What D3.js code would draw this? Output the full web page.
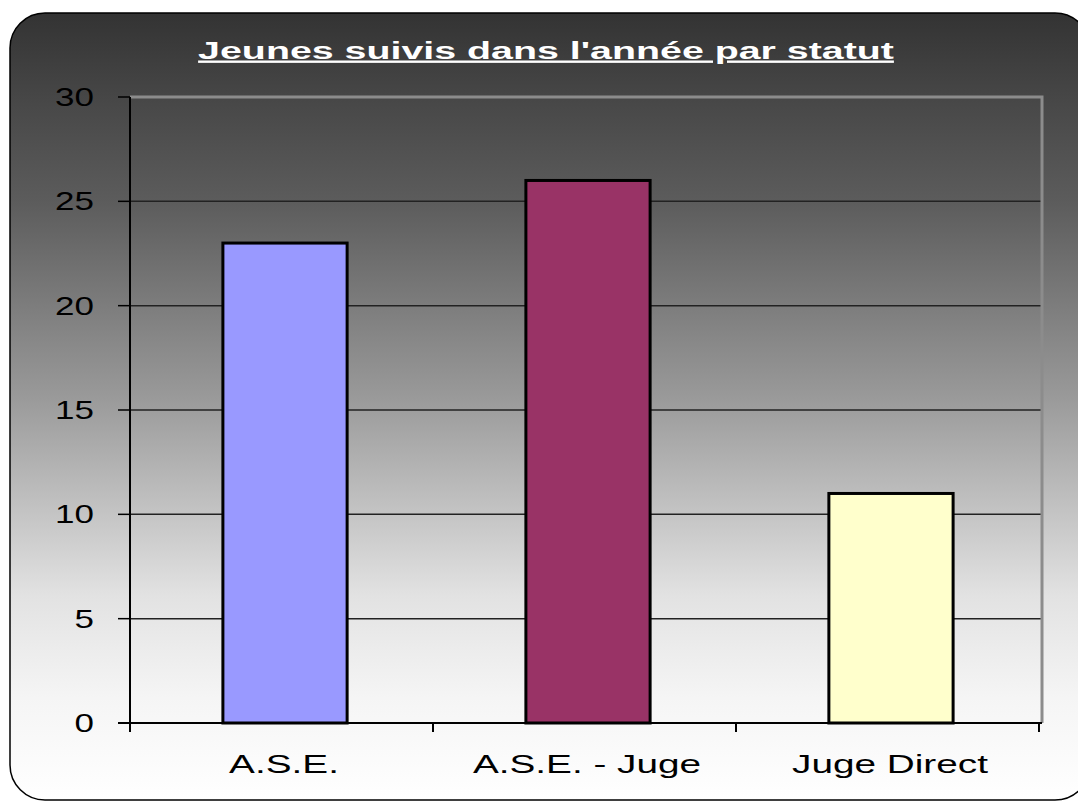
<!DOCTYPE html>
<html>
<head>
<meta charset="utf-8">
<script src="https://cdnjs.cloudflare.com/ajax/libs/d3/7.8.5/d3.min.js"></script>
<style>
  body { margin: 0; background: #fff; }
  text { font-family: "Liberation Sans", Arial, sans-serif; }
</style>
</head>
<body>
<script>
const title = "Jeunes suivis dans l'année par statut";
const categories = ["A.S.E.", "A.S.E. - Juge", "Juge Direct"];
const values = [23, 26, 11];
const barColors = ["#9999ff", "#993366", "#ffffcc"];
const yTicks = [0, 5, 10, 15, 20, 25, 30];

const w = 1078, h = 803;
const plotLeft = 130, plotRight = 1042, plotTop = 97, plotBottom = 723;

const svg = d3.select("body").append("svg")
  .attr("width", w)
  .attr("height", h);

// background gradient
const defs = svg.append("defs");
const grad = defs.append("linearGradient")
  .attr("id", "bg")
  .attr("gradientUnits", "userSpaceOnUse")
  .attr("x1", 0).attr("y1", 13).attr("x2", 0).attr("y2", 800);
[[0, "#333333"], [0.11, "#474747"], [0.24, "#5c5c5c"], [0.49, "#9a9a9a"], [0.74, "#e2e2e2"], [0.87, "#f5f5f5"], [1, "#ffffff"]]
  .forEach(s => grad.append("stop").attr("offset", s[0]).attr("stop-color", s[1]));

svg.append("rect")
  .attr("x", 10).attr("y", 13)
  .attr("width", 1080).attr("height", 787)
  .attr("rx", 35)
  .attr("fill", "url(#bg)")
  .attr("stroke", "#000")
  .attr("stroke-width", 1.5);

const x = d3.scaleBand()
  .domain(categories)
  .range([plotLeft, plotRight])
  .paddingInner(0.59)
  .paddingOuter(0.3);

const y = d3.scaleLinear()
  .domain([0, 30])
  .range([plotBottom, plotTop]);

// gridlines
svg.append("g")
  .selectAll("line")
  .data(yTicks.filter(d => d > 0 && d < 30))
  .enter()
  .append("line")
  .attr("x1", plotLeft).attr("x2", plotRight)
  .attr("y1", d => y(d)).attr("y2", d => y(d))
  .attr("stroke", "#222")
  .attr("stroke-width", 1.5);

// plot area border (top and right)
svg.append("path")
  .attr("d", `M${plotLeft},${y(30)}H${plotRight}V${plotBottom}`)
  .attr("fill", "none")
  .attr("stroke", "#8c8c8c")
  .attr("stroke-width", 3);

// bars
svg.append("g")
  .selectAll("rect")
  .data(values)
  .enter()
  .append("rect")
  .attr("x", (d, i) => x(categories[i]) + 2)
  .attr("y", d => y(d))
  .attr("width", x.bandwidth())
  .attr("height", d => y(0) - y(d))
  .attr("fill", (d, i) => barColors[i])
  .attr("stroke", "#000")
  .attr("stroke-width", 3);

// y axis
const yAxis = svg.append("g");
yAxis.append("line")
  .attr("x1", plotLeft).attr("x2", plotLeft)
  .attr("y1", y(30)).attr("y2", y(0))
  .attr("stroke", "#000").attr("stroke-width", 2);
yAxis.selectAll(".tick")
  .data(yTicks)
  .enter()
  .append("line")
  .attr("x1", plotLeft - 12).attr("x2", plotLeft)
  .attr("y1", d => y(d)).attr("y2", d => y(d))
  .attr("stroke", "#000").attr("stroke-width", 1.5);
yAxis.selectAll("g.lab")
  .data(yTicks)
  .enter()
  .append("g")
  .attr("class", "lab")
  .attr("transform", d => `translate(94,${y(d)}) scale(1.4,1)`)
  .append("text")
  .attr("text-anchor", "end")
  .attr("dy", "0.36em")
  .attr("font-size", 25)
  .attr("fill", "#000")
  .text(d => d);

// x axis
const xAxis = svg.append("g");
xAxis.append("line")
  .attr("x1", plotLeft - 12).attr("x2", plotRight)
  .attr("y1", y(0)).attr("y2", y(0))
  .attr("stroke", "#000").attr("stroke-width", 2);
xAxis.selectAll(".tick")
  .data(d3.range(categories.length + 1))
  .enter()
  .append("line")
  .attr("x1", i => plotLeft + i * x.step())
  .attr("x2", i => plotLeft + i * x.step())
  .attr("y1", y(0)).attr("y2", y(0) + 9)
  .attr("stroke", "#000").attr("stroke-width", 2);
xAxis.selectAll("g.lab")
  .data(categories)
  .enter()
  .append("g")
  .attr("class", "lab")
  .attr("transform", d => `translate(${x(d) + x.bandwidth() / 2 + 1},773) scale(1.55,1)`)
  .append("text")
  .attr("text-anchor", "middle")
  .attr("font-size", 25)
  .attr("fill", "#000")
  .text(d => d);

// title
svg.append("g")
  .attr("transform", "translate(546,59) scale(1.64,1)")
  .append("text")
  .attr("text-anchor", "middle")
  .attr("font-size", 24)
  .attr("font-weight", "bold")
  .attr("fill", "#fff")
  .style("text-decoration", "underline")
  .text(title);
</script>
</body>
</html>
